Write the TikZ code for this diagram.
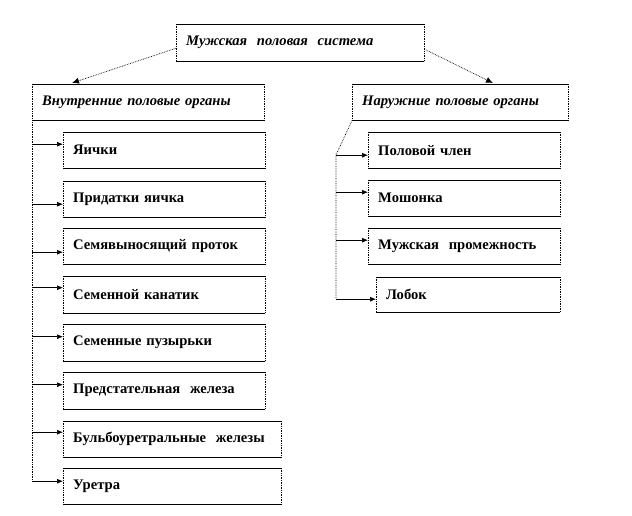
\documentclass[tikz,border=0pt]{standalone}
\usepackage{fontspec}
\setmainfont{Liberation Serif}
\usetikzlibrary{arrows.meta,calc}
\tikzset{
  bx/.style={draw=none, inner xsep=10pt, inner ysep=0pt, align=left, font=\fontsize{14.6}{16}\selectfont\bfseries},
  trunk/.style={densely dotted, line width=0.7pt},
  arr/.style={line width=0.7pt, -{Latex[length=6pt,width=5pt]}},
  darr/.style={densely dotted, line width=0.7pt, -{Latex[length=7pt,width=6pt]}},
}
\newcommand\mybox[6]{%
  \pgfmathsetmacro\bw{#4-#2}%
  \pgfmathsetmacro\bh{#5-#3}%
  \pgfmathsetmacro\tw{#4-#2-20}%
  \node[bx,minimum width=\bw pt,minimum height=\bh pt,text width=\tw pt,anchor=north west] (#1) at (#2,#3) {#6};}
\begin{document}
\begin{tikzpicture}[x=1pt,y=-1pt]
\useasboundingbox (0,0) rectangle (632,516);
\mybox{top}{176}{24}{424}{61}{\textit{Мужская\ \ половая\ \ система}}
\mybox{L}{32}{84}{264}{120}{\textit{Внутренние половые органы}}
\mybox{R}{352}{84}{568}{120}{\textit{Наружние половые органы}}
\mybox{L1}{63}{132}{265}{168}{Яички}
\mybox{L2}{63}{181}{265}{217}{Придатки яичка}
\mybox{L3}{63}{228}{265}{264}{Семявыносящий проток}
\mybox{L4}{63}{276}{265}{313}{Семенной канатик}
\mybox{L5}{63}{324}{265}{361}{Семенные пузырьки}
\mybox{L6}{63}{372}{265}{409}{Предстательная\ \ железа}
\mybox{L7}{63}{421}{281}{457}{Бульбоуретральные\ \ железы}
\mybox{L8}{63}{468}{281}{504}{Уретра}
\mybox{R1}{368}{132}{560}{168}{Половой член}
\mybox{R2}{368}{180}{560}{216}{Мошонка}
\mybox{R3}{368}{228}{560}{264}{Мужская\ \ промежность}
\mybox{R4}{376}{277}{560}{312}{Лобок}
\foreach \n in {top,L,R,L1,L2,L3,L4,L5,L6,L7,L8,R1,R2,R3,R4}{
  \draw[line width=0.8pt] (\n.north west) -- (\n.north east) (\n.south west) -- (\n.south east);
  \draw[densely dotted, line width=0.7pt] (\n.north west) -- (\n.south west) (\n.north east) -- (\n.south east);
}
% top arrows
\draw[darr] ([yshift=-5.5pt]top.west) -- ([xshift=40pt,yshift=1pt]L.north west);
\draw[darr] ([yshift=-6.5pt]top.east) -- ([xshift=141pt,yshift=1pt]R.north west);
% left trunk
\coordinate (lb) at ([yshift=5pt]L8.west -| L.south west);
\draw[trunk] (L.south west) -- (lb);
\foreach \n/\d in {L1/6,L2/-5,L3/-6,L4/7,L5/6,L6/6,L7/7,L8/5}{
  \draw[arr] ([yshift=\d pt]\n.west -| L.south west) -- ([yshift=\d pt]\n.west);
}
% right trunk
\coordinate (rt) at (336,155);
\coordinate (rb) at ([yshift=-4.5pt]R4.west -| rt);
\draw[trunk] (R.south west) -- (rt) -- (rb);
\foreach \n/\d in {R1/-5,R2/6,R3/6,R4/-4.5}{
  \draw[arr] ([yshift=\d pt]\n.west -| rt) -- ([yshift=\d pt]\n.west);
}
\end{tikzpicture}
\end{document}
